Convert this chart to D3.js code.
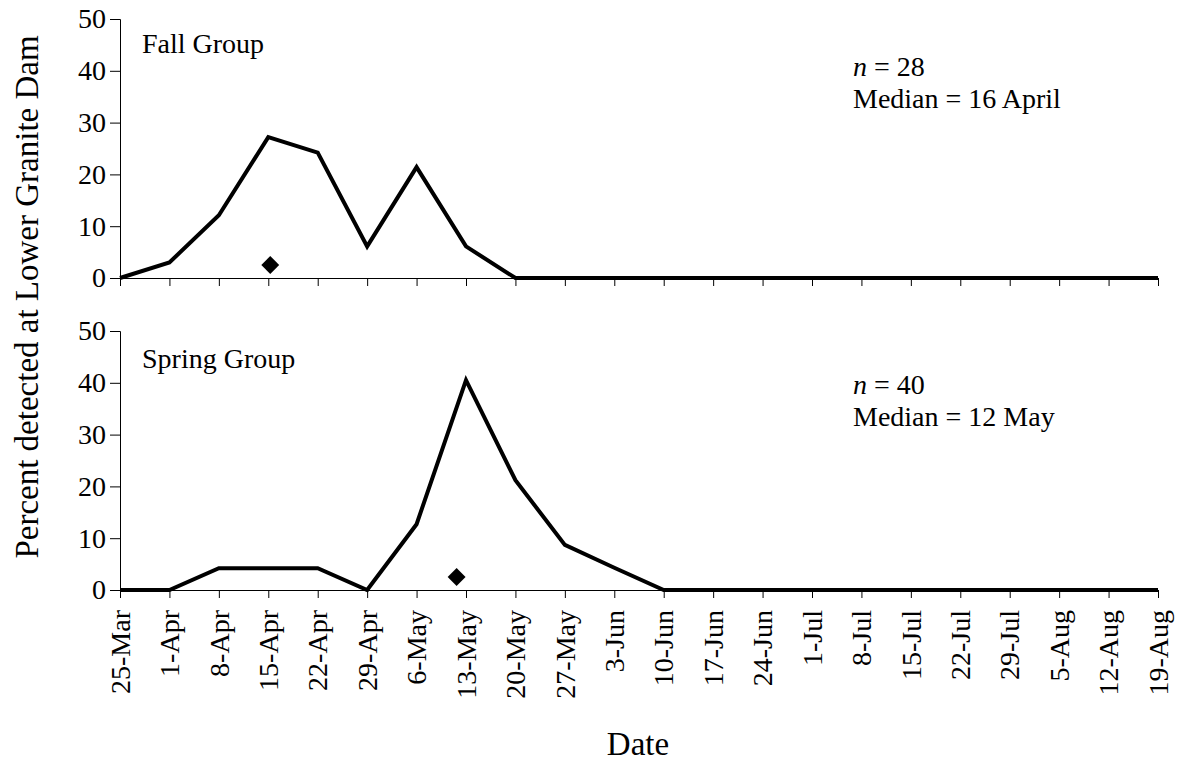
<!DOCTYPE html>
<html>
<head>
<meta charset="utf-8">
<script src="https://cdn.jsdelivr.net/npm/d3@7"></script>
<style>
  body { margin: 0; background: #fff; }
  svg { display: block; }
</style>
</head>
<body>
<svg width="1179" height="761"></svg>
<script>
// weekly dates on the x axis
let weekLabels = ["25-Mar","1-Apr","8-Apr","15-Apr","22-Apr","29-Apr","6-May","13-May","20-May",
  "27-May","3-Jun","10-Jun","17-Jun","24-Jun","1-Jul","8-Jul","15-Jul","22-Jul","29-Jul",
  "5-Aug","12-Aug","19-Aug"];

// percent detected per week
let fallPct   = [0, 3.0, 12.1, 27.2, 24.2, 6.1, 21.4, 6.1, 0, 0, 0, 0, 0, 0, 0, 0, 0, 0, 0, 0, 0, 0];
let springPct = [0, 0, 4.2, 4.2, 4.2, 0, 12.7, 40.5, 21.2, 8.7, 4.3, 0, 0, 0, 0, 0, 0, 0, 0, 0, 0, 0];

// median markers (position in weeks from 25-Mar, value)
let fallMedian   = [3.04, 2.5];
let springMedian = [6.81, 2.5];

let yTicks = [0, 10, 20, 30, 40, 50];

let svg = d3.select("svg");
let fontSize = 28;
let serif = "'Liberation Serif', 'Times New Roman', Tinos, 'DejaVu Serif', serif";

let x = d3.scaleLinear()
  .domain([0, weekLabels.length - 1])
  .range([120, 1158]);

let panels = [
  { values: fallPct,   median: fallMedian,   top: 19,  bottom: 278,
    title: "Fall Group",   n: "28", medText: "Median = 16 April", titleY: 53,  nY: 76,  medY: 108 },
  { values: springPct, median: springMedian, top: 331, bottom: 590,
    title: "Spring Group", n: "40", medText: "Median = 12 May",   titleY: 368, nY: 394, medY: 426 }
];

panels.forEach(function(p, i) {
  let y = d3.scaleLinear().domain([0, 50]).range([p.bottom, p.top]);

  // y axis
  let gy = svg.append("g")
    .attr("transform", "translate(120,0)")
    .call(d3.axisLeft(y).tickValues(yTicks).tickSize(10).tickPadding(4));
  gy.attr("font-family", null).attr("font-size", null);
  gy.selectAll("text")
    .attr("fill", "#000")
    .style("font-family", serif)
    .style("font-size", fontSize + "px");
  gy.selectAll("line,path").attr("stroke", "#000");

  // x axis
  let gx = svg.append("g")
    .attr("transform", "translate(0," + p.bottom + ")")
    .call(d3.axisBottom(x).tickValues(d3.range(weekLabels.length)).tickSize(8).tickSizeOuter(0)
      .tickFormat(function(d) { return weekLabels[d]; }));
  gx.attr("font-family", null).attr("font-size", null);
  gx.selectAll("line,path").attr("stroke", "#000");
  if (i == 0) {
    gx.selectAll("text").remove();
  } else {
    gx.selectAll("text")
      .attr("fill", "#000")
      .style("font-family", serif)
      .style("font-size", fontSize + "px")
      .attr("text-anchor", "end")
      .attr("transform", "rotate(-90)")
      .attr("x", -20)
      .attr("y", 0)
      .attr("dy", "0.33em");
  }

  // series line
  let line = d3.line()
    .x(function(d, j) { return x(j); })
    .y(function(d) { return y(d); });

  svg.append("path")
    .datum(p.values)
    .attr("d", line)
    .attr("fill", "none")
    .attr("stroke", "#000")
    .attr("stroke-width", 4)
    .attr("stroke-linejoin", "miter");

  // median diamond
  svg.append("path")
    .attr("d", d3.symbol().type(d3.symbolSquare).size(160)())
    .attr("transform", "translate(" + x(p.median[0]) + "," + y(p.median[1]) + ") rotate(45)")
    .attr("fill", "#000");

  // labels
  svg.append("text")
    .attr("x", 142).attr("y", p.titleY)
    .style("font-family", serif)
    .style("font-size", fontSize + "px")
    .text(p.title);

  let nt = svg.append("text")
    .attr("x", 853).attr("y", p.nY)
    .style("font-family", serif)
    .style("font-size", fontSize + "px");
  nt.append("tspan").style("font-style", "italic").text("n");
  nt.append("tspan").text(" = " + p.n);

  svg.append("text")
    .attr("x", 853).attr("y", p.medY)
    .style("font-family", serif)
    .style("font-size", fontSize + "px")
    .text(p.medText);
});

// axis titles
svg.append("text")
  .attr("transform", "translate(38,297) rotate(-90)")
  .attr("text-anchor", "middle")
  .style("font-family", serif)
  .style("font-size", "33px")
  .text("Percent detected at Lower Granite Dam");

svg.append("text")
  .attr("x", 638).attr("y", 755)
  .attr("text-anchor", "middle")
  .style("font-family", serif)
  .style("font-size", "33px")
  .text("Date");
</script>
</body>
</html>
